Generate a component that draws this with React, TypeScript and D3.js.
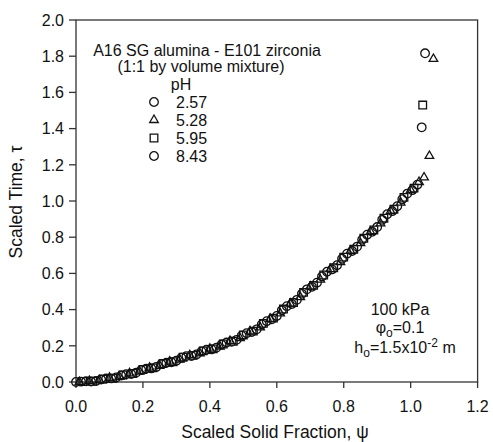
import React from "react";
import * as d3 from "d3";

const xTicks = [0, 0.2, 0.4, 0.6, 0.8, 1.0, 1.2];
const yTicks = [0, 0.2, 0.4, 0.6, 0.8, 1.0, 1.2, 1.4, 1.6, 1.8, 2.0];

const legendLabels = ["2.57", "5.28", "5.95", "8.43"];
const legendShapes = ["circle", "triangle", "square", "circle"];

// pH 2.57 (circles)
const seriesPH257: [number, number][] = [
  [0.000, 0.000], [0.030, 0.004], [0.060, 0.006], [0.090, 0.019], [0.120, 0.025], [0.150, 0.043],
  [0.180, 0.052], [0.210, 0.074], [0.240, 0.083], [0.270, 0.107], [0.300, 0.118], [0.330, 0.143],
  [0.360, 0.152], [0.390, 0.178], [0.420, 0.190], [0.450, 0.218], [0.480, 0.233], [0.510, 0.270],
  [0.540, 0.291], [0.570, 0.336], [0.600, 0.365], [0.630, 0.419], [0.660, 0.454], [0.690, 0.512],
  [0.720, 0.549], [0.750, 0.609], [0.780, 0.645], [0.810, 0.709], [0.840, 0.748], [0.870, 0.814],
  [0.900, 0.856], [0.930, 0.927], [0.960, 0.971], [0.990, 1.041], [1.020, 1.090], [1.043, 1.816],
];

// pH 5.28 (triangles)
const seriesPH528: [number, number][] = [
  [0.010, 0.000], [0.040, 0.006], [0.070, 0.009], [0.100, 0.023], [0.130, 0.028], [0.160, 0.048],
  [0.190, 0.057], [0.220, 0.079], [0.250, 0.089], [0.280, 0.113], [0.310, 0.124], [0.340, 0.148],
  [0.370, 0.158], [0.400, 0.184], [0.430, 0.196], [0.460, 0.226], [0.490, 0.242], [0.520, 0.280],
  [0.550, 0.302], [0.580, 0.349], [0.610, 0.379], [0.640, 0.433], [0.670, 0.469], [0.700, 0.527],
  [0.730, 0.565], [0.760, 0.623], [0.790, 0.663], [0.820, 0.724], [0.850, 0.767], [0.880, 0.830],
  [0.910, 0.876], [0.940, 0.944], [0.970, 0.991], [1.000, 1.060], [1.025, 1.105], [1.040, 1.130],
  [1.056, 1.249], [1.068, 1.785],
];

// pH 5.95 (squares)
const seriesPH595: [number, number][] = [
  [0.020, 0.003], [0.050, 0.004], [0.080, 0.016], [0.110, 0.020], [0.140, 0.039], [0.170, 0.047],
  [0.200, 0.069], [0.230, 0.078], [0.260, 0.102], [0.290, 0.112], [0.320, 0.137], [0.350, 0.147],
  [0.380, 0.172], [0.410, 0.183], [0.440, 0.210], [0.470, 0.225], [0.500, 0.260], [0.530, 0.281],
  [0.560, 0.324], [0.590, 0.353], [0.620, 0.403], [0.650, 0.439], [0.680, 0.495], [0.710, 0.534],
  [0.740, 0.591], [0.770, 0.631], [0.800, 0.690], [0.830, 0.733], [0.860, 0.794], [0.890, 0.840],
  [0.920, 0.905], [0.950, 0.954], [0.980, 1.020], [1.010, 1.071], [1.036, 1.530],
];

// pH 8.43 (circles)
const seriesPH843: [number, number][] = [
  [0.015, 0.002], [0.045, 0.003], [0.075, 0.014], [0.105, 0.020], [0.135, 0.036], [0.165, 0.044],
  [0.195, 0.066], [0.225, 0.075], [0.255, 0.099], [0.285, 0.109], [0.315, 0.134], [0.345, 0.144],
  [0.375, 0.169], [0.405, 0.180], [0.435, 0.207], [0.465, 0.222], [0.495, 0.256], [0.525, 0.276],
  [0.555, 0.318], [0.585, 0.346], [0.615, 0.396], [0.645, 0.431], [0.675, 0.487], [0.705, 0.526],
  [0.735, 0.583], [0.765, 0.622], [0.795, 0.681], [0.825, 0.724], [0.855, 0.786], [0.885, 0.830],
  [0.915, 0.896], [0.945, 0.944], [0.975, 1.010], [1.005, 1.060], [1.033, 1.407],
];

const allSeries = [
  { data: seriesPH257, shape: "circle" },
  { data: seriesPH528, shape: "triangle" },
  { data: seriesPH595, shape: "square" },
  { data: seriesPH843, shape: "circle" },
];

const W = 493;
const H = 442;
const M = { left: 76, top: 20, right: 477.6, bottom: 382 };
const FONT = "'Liberation Sans', Arial, Helvetica, sans-serif";
const INK = "#111";

const symbolPath = (shape: string) => {
  if (shape === "triangle") return d3.symbol(d3.symbolTriangle, 32)()!;
  if (shape === "square") return d3.symbol(d3.symbolSquare, 58)()!;
  return d3.symbol(d3.symbolCircle, 58)()!;
};

export default function App() {
  const x = d3.scaleLinear().domain([0, 1.2]).range([M.left, M.right]);
  const y = d3.scaleLinear().domain([0, 2.0]).range([M.bottom, M.top]);

  return (
    <svg width={W} height={H} style={{ position: "absolute", left: 0, top: 0, background: "#fff" }}
      fontFamily={FONT}>
      <rect x={0} y={0} width={W} height={H} fill="#fff" />
      {/* frame */}
      <rect x={M.left} y={M.top} width={M.right - M.left} height={M.bottom - M.top}
        fill="none" stroke="#333" strokeWidth={1.3} />
      {/* y axis ticks */}
      {yTicks.map((t) => (
        <g key={"y" + t}>
          <line x1={M.left - 7} x2={M.left} y1={y(t)} y2={y(t)} stroke="#333" strokeWidth={1.3} />
          <text x={64} y={y(t)} dy="0.36em" textAnchor="end" fontSize={16} fill={INK}>
            {t.toFixed(1)}
          </text>
        </g>
      ))}
      {/* x axis ticks */}
      {xTicks.map((t) => (
        <g key={"x" + t}>
          <line x1={x(t)} x2={x(t)} y1={M.bottom} y2={M.bottom + 6} stroke="#333" strokeWidth={1.3} />
          <text x={x(t)} y={412} textAnchor="middle" fontSize={16} fill={INK}>
            {t.toFixed(1)}
          </text>
        </g>
      ))}
      {/* axis titles */}
      <text x={275} y={438} textAnchor="middle" fontSize={17.5} fill={INK}>
        Scaled Solid Fraction, ψ
      </text>
      <text transform={`translate(22,202) rotate(-90)`} textAnchor="middle" fontSize={17.5} fill={INK}>
        Scaled Time, τ
      </text>
      {/* data */}
      {allSeries.map((s, si) => (
        <g key={"s" + si}>
          {s.data.map((d, i) => (
            <path key={i} d={symbolPath(s.shape)} transform={`translate(${x(d[0])},${y(d[1])})`}
              fill="none" stroke={INK} strokeWidth={1.3} />
          ))}
        </g>
      ))}
      {/* title */}
      <text x={207} y={56} textAnchor="middle" fontSize={16} fill={INK}>A16 SG alumina - E101 zirconia</text>
      <text x={201} y={72} textAnchor="middle" fontSize={16} fill={INK}>(1:1 by volume mixture)</text>
      <text x={181} y={90} textAnchor="middle" fontSize={16} fill={INK}>pH</text>
      {legendLabels.map((l, i) => (
        <g key={"l" + i}>
          <path d={symbolPath(legendShapes[i])} transform={`translate(154,${102 + i * 18})`}
            fill="none" stroke={INK} strokeWidth={1.3} />
          <text x={176} y={107.5 + i * 18} fontSize={16} fill={INK}>{l}</text>
        </g>
      ))}
      {/* conditions */}
      <text x={400} y={315} textAnchor="middle" fontSize={16} fill={INK}>100 kPa</text>
      <text x={400} y={333} textAnchor="middle" fontSize={16} fill={INK}>
        φ<tspan fontSize={12} dy={4}>o</tspan><tspan dy={-4}>=0.1</tspan>
      </text>
      <text x={405} y={353} textAnchor="middle" fontSize={16} fill={INK}>
        h<tspan fontSize={12} dy={4}>o</tspan><tspan dy={-4}>=1.5x10</tspan>
        <tspan fontSize={12} dy={-6}>-2</tspan><tspan dy={6}> m</tspan>
      </text>
    </svg>
  );
}
